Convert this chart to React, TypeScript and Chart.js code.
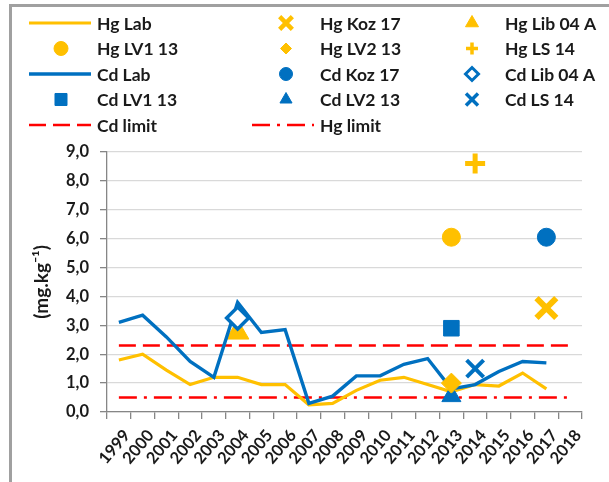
import React, { useEffect, useRef } from 'react';
import { Chart, registerables } from 'chart.js';
import { drawPoint } from 'chart.js/helpers';

Chart.register(...registerables);

// ---- data ----
const YEARS = ['1999', '2000', '2001', '2002', '2003', '2004', '2005', '2006', '2007', '2008',
  '2009', '2010', '2011', '2012', '2013', '2014', '2015', '2016', '2017', '2018'];
const HG_LAB = [1.8, 2.0, 1.45, 0.95, 1.2, 1.2, 0.95, 0.95, 0.25, 0.3, 0.75, 1.1, 1.2, 0.95, 0.7, 0.95, 0.9, 1.35, 0.8, null];
const CD_LAB = [3.1, 3.35, 2.6, 1.75, 1.2, 3.8, 2.75, 2.85, 0.3, 0.55, 1.25, 1.25, 1.65, 1.85, 0.8, 0.95, 1.4, 1.75, 1.7, null];
const HG_KOZ_17 = [{ x: '2017', y: 3.6 }];
const HG_LIB_04A = [{ x: '2004', y: 2.75 }];
const HG_LV1_13 = [{ x: '2013', y: 6.05 }];
const HG_LV2_13 = [{ x: '2013', y: 1.0 }];
const HG_LS_14 = [{ x: '2014', y: 8.6 }];
const CD_KOZ_17 = [{ x: '2017', y: 6.05 }];
const CD_LIB_04A = [{ x: '2004', y: 3.25 }];
const CD_LV1_13 = [{ x: '2013', y: 2.9 }];
const CD_LV2_13 = [{ x: '2013', y: 0.55 }];
const CD_LS_14 = [{ x: '2014', y: 1.5 }];
const CD_LIMIT = [{ x: '1999', y: 2.3 }, { x: '2018', y: 2.3 }];
const HG_LIMIT = [{ x: '1999', y: 0.5 }, { x: '2018', y: 0.5 }];
const Y_MIN = 0;
const Y_MAX = 9;
const Y_STEP = 1;
const Y_TITLE = '(mg.kg⁻¹)';

const YELLOW = '#FFC000';
const BLUE = '#0070C0';
const RED = '#FF0000';
const TEXT = '#1a1a1a';
const FONT = 'Lato, "Liberation Sans", sans-serif';

function pointDs(label: string, data: any, color: string, style: string, radius: number, legendRadius: number, order: number, extra: any = {}) {
  return {
    label, data, showLine: false, pointStyle: style, pointRadius: radius,
    backgroundColor: color, borderColor: color, pointBackgroundColor: color, pointBorderColor: color,
    pointBorderWidth: 1, borderWidth: 1, legendRadius, order, ...extra,
  };
}

const legendPlugin = {
  id: 'gridLegend',
  afterDraw(chart: any) {
    const ctx = chart.ctx;
    const colX = [61, 286, 472];
    const textX = [97, 320, 505];
    const rowY = [23, 48.5, 74, 99.5, 125];
    chart.data.datasets.forEach((ds: any, i: number) => {
      const r = Math.floor(i / 3);
      const c = i % 3;
      const cx = colX[c];
      const cy = rowY[r];
      ctx.save();
      if (ds.showLine !== false) {
        ctx.strokeStyle = ds.borderColor;
        ctx.lineWidth = ds.borderWidth;
        ctx.setLineDash(ds.borderDash || []);
        ctx.beginPath();
        ctx.moveTo(textX[c] - 68, cy);
        ctx.lineTo(textX[c] - 6, cy);
        ctx.stroke();
      } else {
        ctx.fillStyle = ds.pointBackgroundColor;
        ctx.strokeStyle = ds.pointBorderColor;
        const bw = ds.legendBorder ?? ds.pointBorderWidth;
        ctx.lineWidth = bw;
        ctx.setLineDash([]);
        drawPoint(ctx, { pointStyle: ds.pointStyle, radius: ds.legendRadius, rotation: 0, borderWidth: bw } as any, cx, cy);
      }
      ctx.setLineDash([]);
      ctx.fillStyle = TEXT;
      ctx.font = `bold 17.5px ${FONT}`;
      ctx.textBaseline = 'middle';
      ctx.textAlign = 'left';
      ctx.fillText(ds.label, textX[c], cy + 1);
      ctx.restore();
    });
  },
};

export default function App() {
  const ref = useRef<HTMLCanvasElement | null>(null);
  useEffect(() => {
    if (!ref.current) return;
    const tickFont = { family: FONT, size: 16.5, weight: 'bold' as const };
    const chart = new Chart(ref.current, {
      type: 'line',
      data: {
        labels: YEARS,
        datasets: [
          { label: 'Hg Lab', data: HG_LAB, borderColor: YELLOW, backgroundColor: YELLOW, borderWidth: 3.2, pointRadius: 0, order: 7 } as any,
          pointDs('Hg Koz 17', HG_KOZ_17, YELLOW, 'crossRot', 14, 9, 1, { pointBorderWidth: 6, legendBorder: 4.5 }),
          pointDs('Hg Lib 04 A', HG_LIB_04A, YELLOW, 'triangle', 13, 7.5, 6),
          pointDs('Hg LV1 13', HG_LV1_13, YELLOW, 'circle', 9, 7, 1),
          pointDs('Hg LV2 13', HG_LV2_13, YELLOW, 'rectRot', 10, 5.5, 1),
          pointDs('Hg LS 14', HG_LS_14, YELLOW, 'cross', 10, 6, 1, { pointBorderWidth: 5, legendBorder: 3.5 }),
          { label: 'Cd Lab', data: CD_LAB, borderColor: BLUE, backgroundColor: BLUE, borderWidth: 3.4, pointRadius: 0, order: 5 } as any,
          pointDs('Cd Koz 17', CD_KOZ_17, BLUE, 'circle', 9, 6.5, 1),
          pointDs('Cd Lib 04 A', CD_LIB_04A, BLUE, 'rectRot', 11, 6.5, 0, { pointBackgroundColor: '#ffffff', pointBorderWidth: 3.5, legendBorder: 3 }),
          pointDs('Cd LV1 13', CD_LV1_13, BLUE, 'rect', 11, 8.5, 1),
          pointDs('Cd LV2 13', CD_LV2_13, BLUE, 'triangle', 11, 7, 1),
          pointDs('Cd LS 14', CD_LS_14, BLUE, 'crossRot', 12, 8.5, 1, { pointBorderWidth: 4, legendBorder: 3.5 }),
          { label: 'Cd limit', data: CD_LIMIT, borderColor: RED, backgroundColor: RED, borderWidth: 2.5, borderDash: [17, 7], pointRadius: 0, order: 9 } as any,
          { label: 'Hg limit', data: HG_LIMIT, borderColor: RED, backgroundColor: RED, borderWidth: 2.5, borderDash: [18, 7, 3, 7], pointRadius: 0, order: 9 } as any,
        ],
      },
      options: {
        responsive: false,
        animation: false,
        devicePixelRatio: 1,
        layout: { padding: { left: 0, right: 27, top: 152, bottom: 0 } },
        plugins: { legend: { display: false }, tooltip: { enabled: false } },
        scales: {
          x: {
            type: 'category',
            offset: true,
            grid: { display: true, drawOnChartArea: false, drawTicks: true, tickLength: 7, offset: true, color: '#868686', lineWidth: 1.3 },
            border: { display: true, color: '#868686', width: 1.3 },
            ticks: { autoSkip: false, minRotation: 50, maxRotation: 50, labelOffset: 8, padding: 7, color: TEXT, font: tickFont },
            afterFit: (s: any) => { s.height = 70; },
          },
          y: {
            min: Y_MIN,
            max: Y_MAX,
            ticks: { stepSize: Y_STEP, padding: 11, color: TEXT, font: tickFont, callback: (v: any) => Number(v).toFixed(1).replace('.', ',') },
            grid: { color: '#d9d9d9', lineWidth: 1.3, tickColor: '#868686', tickLength: 7 },
            border: { color: '#868686', width: 1.3 },
            title: { display: true, text: Y_TITLE, color: TEXT, font: { family: FONT, size: 19, weight: 'bold' }, padding: { top: 30, bottom: 0 } },
            afterFit: (s: any) => { s.width = 107; },
          },
        },
      } as any,
      plugins: [legendPlugin],
    });
    return () => chart.destroy();
  }, []);

  return (
    <div style={{ position: 'fixed', left: 0, top: 0, width: 609, height: 482, overflow: 'hidden', background: '#ffffff' }}>
      <div style={{ position: 'absolute', left: 9, top: 4, width: 800, height: 800, border: '3px solid #a0a0a0', boxSizing: 'border-box' }} />
      <canvas ref={ref} width={609} height={482} style={{ position: 'absolute', left: 0, top: 0, display: 'block' }} />
    </div>
  );
}
